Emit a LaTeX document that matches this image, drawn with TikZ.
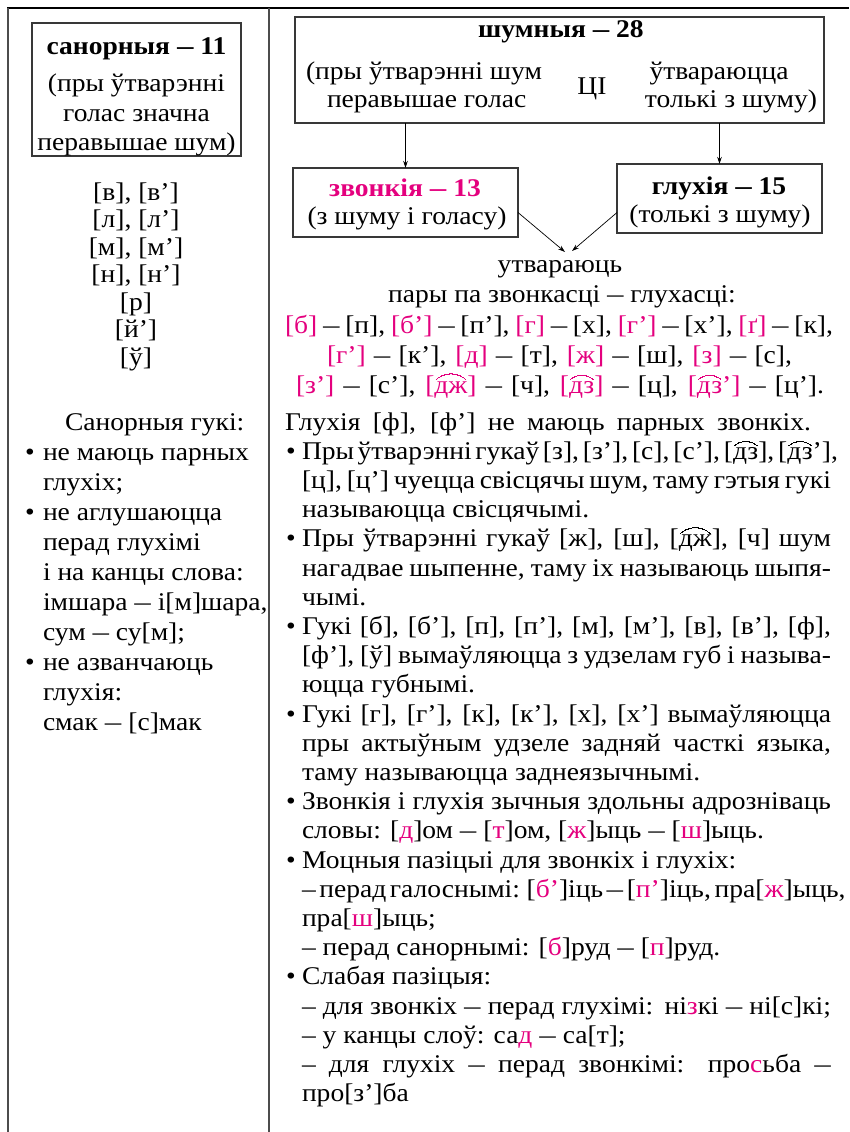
\documentclass[tikz,border=0pt]{standalone}
\usepackage{fontspec}
\setmainfont{Liberation Serif}[FakeStretch=1.08]
\usepackage{graphicx}
\usetikzlibrary{arrows.meta}
\definecolor{mag}{RGB}{228,0,126}
\newcommand\pk[1]{\textcolor{mag}{#1}}
\newcommand\md{\scalebox{0.6}[1]{—}}
\newcommand\tb[1]{\leavevmode\setbox0=\hbox{#1}%
  \rlap{\setlength{\unitlength}{\wd0}\raisebox{0.53em}{\begin{picture}(0,0)\linethickness{0.9pt}\qbezier(0.05,0)(0.5,0.34)(0.95,0)\end{picture}}}%
  \box0}
\newcommand\jl[2][529pt]{\makebox[#1][s]{\spaceskip=0.2em plus 1em minus 0.06em\relax #2}}
\begin{document}
\begin{tikzpicture}[x=1pt,y=-1pt,
  every node/.style={inner sep=0pt,outer sep=0pt,font=\fontsize{25.5}{29}\selectfont},
  boxn/.style={draw=black!78,line width=1.2pt},
  arr/.style={-{Stealth[length=7pt,width=4.5pt]},line width=0.7pt},
  framel/.style={line width=1.1pt,draw=black!70},
  bl/.style={anchor=base west},
  bc/.style={anchor=base},
]
\useasboundingbox (0,0) rectangle (849,1132);
% frame
\draw[line width=1.6pt] (7,8) -- (849,8);
\draw[framel] (8,8) -- (8,1132);
\draw[framel] (269,8) -- (269,1132);

% ---------- left column ----------
\node[boxn,minimum width=209pt,minimum height=133pt] (sbox) at (136.5,89.5) {};
\node[bc] (s1) at (136.5,55) {\textbf{санорныя \md{} 11}};
\node[bc] (s2) at (136.5,91) {(пры ўтварэнні};
\node[bc] (s3) at (136.5,121) {голас значна};
\node[bc] (s4) at (136.5,150) {перавышае шум)};

\node[bc] (v1) at (136,200) {[в], [в’]};
\node[bc] (v2) at (136,227.5) {[л], [л’]};
\node[bc] (v3) at (136,255) {[м], [м’]};
\node[bc] (v4) at (136,282.5) {[н], [н’]};
\node[bc] (v5) at (136,310) {[р]};
\node[bc] (v6) at (136,337.5) {[й’]};
\node[bc] (v7) at (136,365) {[ў]};

\node[bl] (a0) at (65,430) {Санорныя гукі:};
\node[bl] (ab1) at (25,460) {•};
\node[bl] (a1) at (43,460) {не маюць парных};
\node[bl] (a2) at (43,490) {глухіх;};
\node[bl] (ab2) at (25,520) {•};
\node[bl] (a3) at (43,520) {не аглушаюцца};
\node[bl] (a4) at (43,550) {перад глухімі};
\node[bl] (a5) at (43,580) {і на канцы слова:};
\node[bl] (a6) at (43,610) {імшара \md{} і[м]шара,};
\node[bl] (a7) at (43,640) {сум \md{} су[м];};
\node[bl] (ab3) at (25,670) {•};
\node[bl] (a8) at (43,670) {не азванчаюць};
\node[bl] (a9) at (43,700) {глухія:};
\node[bl] (a10) at (43,730) {смак \md{} [с]мак};

% ---------- right column: scheme ----------
\node[boxn,minimum width=529pt,minimum height=106pt] (shum) at (559.5,70) {};
\node[bc] (h1) at (561,38) {\textbf{шумныя \md{} 28}};
\node[bl] (h2) at (306,79) {(пры ўтварэнні шум};
\node[bl] (h3) at (327,107) {перавышае голас};
\node[bc] (h4) at (592,95) {ЦІ};
\node[bc] (h5) at (719,79) {ўтвараюцца};
\node[anchor=base east] (h6) at (817,107) {толькі з шуму)};

\node[boxn,minimum width=225pt,minimum height=69pt] (zv) at (405.5,202.5) {};
\node[bc] (z1) at (405,196) {\textbf{\pk{звонкія \md{} 13}}};
\node[bc] (z2) at (407,224) {(з шуму і голасу)};

\node[boxn,minimum width=205pt,minimum height=69pt] (gl) at (719.5,198.5) {};
\node[bc] (g1) at (719,194) {\textbf{глухія \md{} 15}};
\node[bc] (g2) at (720,222) {(толькі з шуму)};

\draw[arr] (zv.north |- shum.south) -- (zv.north);
\draw[arr] (gl.north |- shum.south) -- (gl.north);

\node[bc] (utv) at (560,272) {утвараюць};
\coordinate (tipL) at (565,252);
\coordinate (tipR) at (572,251);
\draw[arr] ([yshift=-10pt]zv.east) -- (tipL);
\draw[arr] ([yshift=-14pt]gl.west) -- (tipR);

\node[bc] (p0) at (562,302) {пары па звонкасці \md{} глухасці:};
\node[bc] (p1) at (559,333) {\jl[548pt]{\pk{[б]} \md{} [п], \pk{[б’]} \md{} [п’], \pk{[г]} \md{} [х], \pk{[г’]} \md{} [х’], \pk{[ґ]} \md{} [к],}};
\node[bc] (p2) at (559.5,363) {\jl[465pt]{\pk{[г’]} \md{} [к’], \pk{[д]} \md{} [т], \pk{[ж]} \md{} [ш], \pk{[з]} \md{} [с],}};
\node[bc] (p3) at (560,393) {\jl[528pt]{\pk{[з’]} \md{} [с’], \pk{[\tb{дж}]} \md{} [ч], \pk{[\tb{дз}]} \md{} [ц], \pk{[\tb{дз}’]} \md{} [ц’].}};

% ---------- right column: text ----------
\node[bl] (r0) at (285,430) {\jl[526pt]{Глухія [ф], [ф’] не маюць парных звонкіх.}};
\node[bl] (rb1) at (286,459.2) {•};
\node[bl] (r1) at (302,459.2) {\jl{Пры ўтварэнні гукаў [з], [з’], [с], [с’], [\tb{дз}], [\tb{дз}’],}};
\node[bl] (r2) at (302,488.4) {\jl{[ц], [ц’] чуецца свісцячы шум, таму гэтыя гукі}};
\node[bl] (r3) at (302,517.6) {называюцца свісцячымі.};
\node[bl] (rb2) at (286,546.8) {•};
\node[bl] (r4) at (302,546.8) {\jl{Пры ўтварэнні гукаў [ж], [ш], [\tb{дж}], [ч] шум}};
\node[bl] (r5) at (302,576) {\jl{нагадвае шыпенне, таму іх называюць шыпя-}};
\node[bl] (r6) at (302,605.2) {чымі.};
\node[bl] (rb3) at (286,634.4) {•};
\node[bl] (r7) at (302,634.4) {\jl{Гукі [б], [б’], [п], [п’], [м], [м’], [в], [в’], [ф],}};
\node[bl] (r8) at (302,663.6) {\jl{[ф’], [ў] вымаўляюцца з удзелам губ і называ-}};
\node[bl] (r9) at (302,692.8) {юцца губнымі.};
\node[bl] (rb4) at (286,722) {•};
\node[bl] (r10) at (302,722) {\jl{Гукі [г], [г’], [к], [к’], [х], [х’] вымаўляюцца}};
\node[bl] (r11) at (302,751.2) {\jl{пры актыўным удзеле задняй часткі языка,}};
\node[bl] (r12) at (302,780.4) {таму называюцца заднеязычнымі.};
\node[bl] (rb5) at (286,809.6) {•};
\node[bl] (r13) at (302,809.6) {\jl{Звонкія і глухія зычныя здольны адрозніваць}};
\node[bl] (r14) at (302,838.8) {словы: [\pk{д}]ом \md{} [\pk{т}]ом, [\pk{ж}]ыць \md{} [\pk{ш}]ыць.};
\node[bl] (rb6) at (286,868) {•};
\node[bl] (r15) at (302,868) {Моцныя пазіцыі для звонкіх і глухіх:};
\node[bl] (r16) at (302,897.2) {\jl{– перад галоснымі: [\pk{б’}]іць \md{} [\pk{п’}]іць, пра[\pk{ж}]ыць,}};
\node[bl] (r17) at (302,926.4) {пра[\pk{ш}]ыць;};
\node[bl] (r18) at (302,955.6) {– перад санорнымі: [\pk{б}]руд \md{} [\pk{п}]руд.};
\node[bl] (rb7) at (286,984.8) {•};
\node[bl] (r19) at (302,984.8) {Слабая пазіцыя:};
\node[bl] (r20) at (302,1014) {\jl{– для звонкіх \md{} перад глухімі: ні\pk{з}кі \md{} ні[с]кі;}};
\node[bl] (r21) at (302,1043.2) {– у канцы слоў: са\pk{д} \md{} са[т];};
\node[bl] (r22) at (302,1072.4) {\jl{– для глухіх \md{} перад звонкімі: про\pk{с}ьба \md{}}};
\node[bl] (r23) at (302,1101.6) {про[з’]ба};
\end{tikzpicture}
\end{document}
